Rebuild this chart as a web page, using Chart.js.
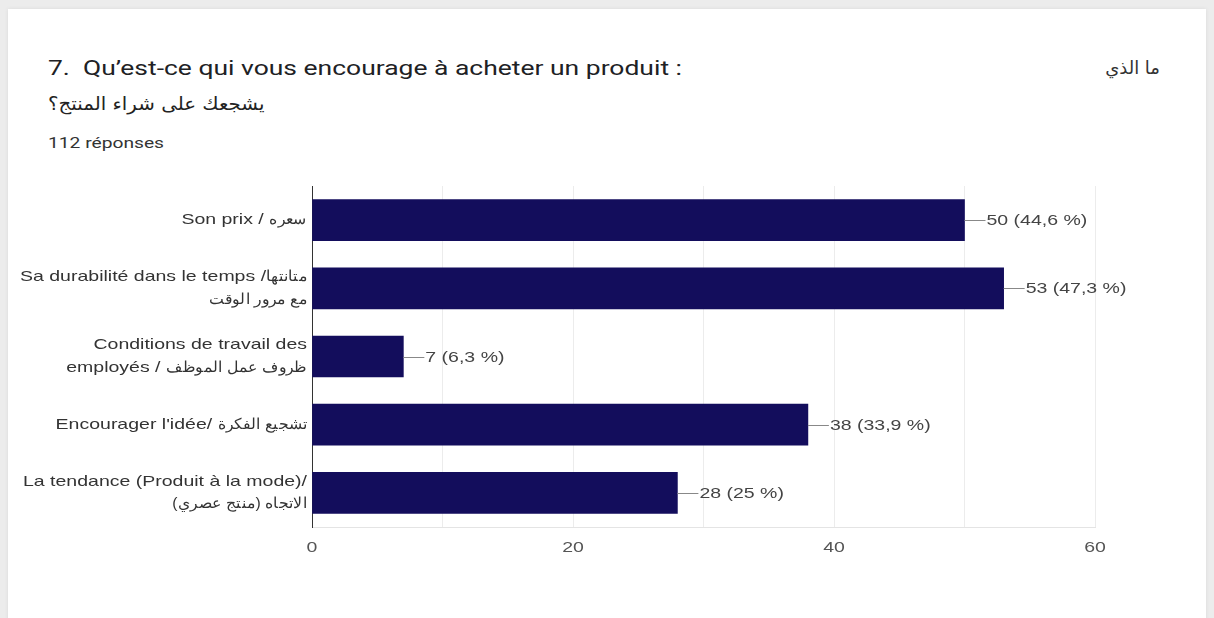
<!DOCTYPE html>
<html lang="fr">
<head>
<meta charset="UTF-8">
<title>Qu'est-ce qui vous encourage</title>
<script src="https://cdn.jsdelivr.net/npm/chart.js@4.4.1/dist/chart.umd.min.js"></script>
<style>
    html, body { margin:0; padding:0; }
    body { width:1214px; height:618px; background:#ececec; position:relative; overflow:hidden; }
    .card { position:absolute; left:8px; top:9px; width:1198px; height:620px; background:#fff;
            box-shadow:0 0 4px rgba(0,0,0,0.08); }
    .txt { position:absolute; white-space:nowrap; color:#202124; font-family:Roboto, "Noto Sans", sans-serif;
           transform-origin:left center; }
    #box { position:absolute; left:0; top:0; width:1214px; height:618px; }
</style>
</head>
<body>
<div class="card"></div>
<div class="txt" style="left:48px; top:56px; font-size:21px; transform:scaleX(1.26);">7.&nbsp; Qu’est-ce qui vous encourage à acheter un produit :</div>
<div class="txt" style="right:54px; top:57px; font-size:18px; font-family:'DejaVu Sans', sans-serif; color:#333;" dir="rtl">ما الذي</div>
<div class="txt" style="left:48px; top:93px; font-size:18px; font-family:'DejaVu Sans', sans-serif; color:#222; transform:scaleX(1.1);" dir="rtl">يشجعك على شراء المنتج؟</div>
<div class="txt" style="left:48px; top:134px; font-size:15px; color:#333; transform:scaleX(1.28);">112 réponses</div>
<div id="box"><canvas id="myChart" width="1214" height="618"></canvas></div>
<script>
    // données
    var categories = [
        ["Son prix / سعره"],
        ["Sa durabilité dans le temps /متانتها", "مع مرور الوقت"],
        ["Conditions de travail des", "employés / ظروف عمل الموظف"],
        ["Encourager l'idée/ تشجيع الفكرة"],
        ["La tendance (Produit à la mode)/", "الاتجاه (منتج عصري)"]
    ];
    var counts = [50, 53, 7, 38, 28];
    var percents = ["44,6", "47,3", "6,3", "33,9", "25"];
    var xTicks = [0, 20, 40, 60];

    var labelFont = "15px 'Liberation Sans', Arial, sans-serif";
    var stretch = 1.3;     // le texte latin du modèle est étiré en largeur
    var stretchAr = 1.05;  // l'arabe beaucoup moins

    // petit trait + texte au bout de chaque barre
    var valueLabels = {
        id: "valueLabels",
        afterDatasetsDraw: function(chart){
            var ctx = chart.ctx;
            var meta = chart.getDatasetMeta(0);
            ctx.save();
            ctx.font = labelFont;
            ctx.textBaseline = "middle";
            ctx.textAlign = "left";
            meta.data.forEach(function(bar, i){
                ctx.strokeStyle = "#888";
                ctx.lineWidth = 1;
                ctx.beginPath();
                ctx.moveTo(bar.x, Math.round(bar.y) + 0.5);
                ctx.lineTo(bar.x + 21, Math.round(bar.y) + 0.5);
                ctx.stroke();
                ctx.fillStyle = "#444";
                ctx.fillText(counts[i] + " (" + percents[i] + " %)", bar.x + 22, bar.y + 1);
            });
            ctx.restore();
        }
    };

    const ctx = document.getElementById('myChart').getContext('2d');
    var origFill = ctx.fillText;
    var reAr = /[\u0600-\u06FF]/;

    // étirer le texte : partie latine puis partie arabe (l'arabe est toujours à droite ici)
    ctx.fillText = function(text, x, y){
        text = String(text);
        var i = text.search(reAr);
        var latin = i < 0 ? text : text.slice(0, i);
        var arab = i < 0 ? "" : text.slice(i);
        if (/[A-Za-z0-9]/.test(arab)) { latin = text; arab = ""; }
        var wL = latin ? this.measureText(latin).width * stretch : 0;
        var wA = arab ? this.measureText(arab).width * stretchAr : 0;
        var w = wL + wA;
        var align = this.textAlign;
        var left = x;
        if (align === "right" || align === "end") left = x - w;
        else if (align === "center") left = x - w / 2;
        this.save();
        this.textAlign = "left";
        if (latin) {
            this.save();
            this.translate(left, y);
            this.scale(stretch, 1);
            origFill.call(this, latin, 0, 0);
            this.restore();
        }
        if (arab) {
            this.translate(left + wL, y);
            this.scale(stretchAr, 1);
            origFill.call(this, arab, 0, 0);
        }
        this.restore();
    };

    const myChart = new Chart(ctx, {
        type: 'bar',
        data: {
            labels: categories,
            datasets: [{
                data: counts,
                backgroundColor: '#130d5c',
                barThickness: 41
            }]
        },
        options: {
            indexAxis: 'y',
            responsive: false,
            animation: false,
            layout: { padding: { top: 186, right: 119, left: 0, bottom: 0 } },
            plugins: { legend: { display: false }, tooltip: { enabled: false } },
            scales: {
                x: {
                    min: 0,
                    max: 60,
                    afterFit: function(scale){ scale.height = 91; },
                    afterBuildTicks: function(scale){
                        var t = [];
                        for (var v = 0; v <= 60; v += 10) t.push({ value: v });
                        scale.ticks = t;
                    },
                    grid: { color: '#ececec', drawTicks: false },
                    border: { color: '#e4e4e4' },
                    ticks: {
                        padding: 12,
                        color: '#555',
                        font: { family: "'Liberation Sans', Arial, sans-serif", size: 15 },
                        callback: function(v){ return xTicks.indexOf(v) >= 0 ? v : ''; }
                    }
                },
                y: {
                    afterFit: function(scale){ scale.width = 312; },
                    grid: { display: false, drawTicks: false },
                    border: { color: '#333', width: 1 },
                    ticks: {
                        padding: 5,
                        color: '#333',
                        font: { family: "'Liberation Sans', Arial, sans-serif", size: 15, lineHeight: 1.5 }
                    }
                }
            }
        },
        plugins: [valueLabels]
    });
</script>
</body>
</html>
